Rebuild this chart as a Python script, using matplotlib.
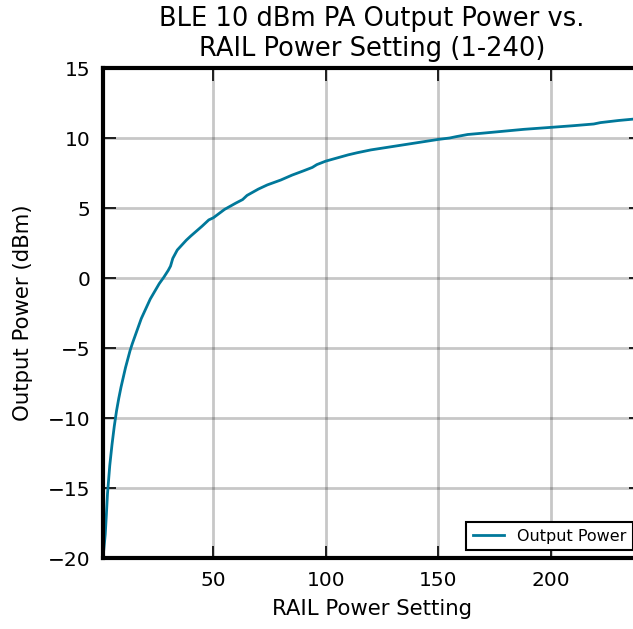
import matplotlib
matplotlib.use('Agg')
import matplotlib.pyplot as plt
import numpy as np

power_setting = [1, 2, 2.5, 3, 3.5, 4, 5, 6, 7, 8, 9, 10, 11, 12, 13, 14, 16,
                 18, 20, 22, 24, 26, 28, 30, 31, 32, 33, 34, 36, 38, 40, 45,
                 48, 50, 55, 60, 63, 65, 70, 74, 80, 85, 90, 94, 96, 100, 110,
                 114, 120, 130, 140, 150, 155, 158, 163, 170, 180, 188, 200,
                 210, 219, 222, 230, 240]
output_power = [-20.0, -18.3, -16.9, -15.4, -14.4, -13.4, -11.9, -10.6, -9.5,
                -8.6, -7.8, -7.1, -6.4, -5.8, -5.2, -4.7, -3.8, -2.9, -2.2,
                -1.5, -0.95, -0.4, 0.05, 0.55, 0.85, 1.4, 1.7, 2.0, 2.35, 2.7,
                3.0, 3.7, 4.15, 4.3, 4.9, 5.35, 5.6, 5.9, 6.35, 6.65, 7.0,
                7.35, 7.65, 7.9, 8.1, 8.35, 8.8, 8.95, 9.15, 9.4, 9.65, 9.9,
                10.0, 10.1, 10.25, 10.35, 10.5, 10.62, 10.76, 10.88, 11.0,
                11.1, 11.25, 11.4]

x = np.array(power_setting)
y = np.array(output_power)

fig = plt.figure(figsize=(6.33, 6.29), dpi=100)
ax = fig.add_axes([103 / 633, 71 / 629, 538 / 633, 490 / 629])

ax.plot(x, y, color='#00789a', lw=2, label='Output Power')

ax.set_xlim(1, 240)
ax.set_ylim(-20, 15)
ax.set_xticks([50, 100, 150, 200])
ax.set_yticks(np.arange(-20, 16, 5))
ax.grid(True, color='k', alpha=0.22, lw=2)

for s in ax.spines.values():
    s.set_linewidth(3)
ax.tick_params(direction='in', length=9, width=1.2, labelsize=14.5, pad=9,
               top=True, right=True)

ax.set_xlabel('RAIL Power Setting', fontsize=15.3, labelpad=7)
ax.set_ylabel('Output Power (dBm)', fontsize=15.3, labelpad=11)
ax.set_title('BLE 10 dBm PA Output Power vs.\nRAIL Power Setting (1-240)',
             fontsize=18.5, pad=9, linespacing=1.15)

leg = ax.legend(loc='lower right', fontsize=11.5, fancybox=False,
                framealpha=1, borderaxespad=0.5)
leg.get_frame().set_edgecolor('k')
leg.get_frame().set_linewidth(1.5)

fig.savefig('out.png', dpi=100)
